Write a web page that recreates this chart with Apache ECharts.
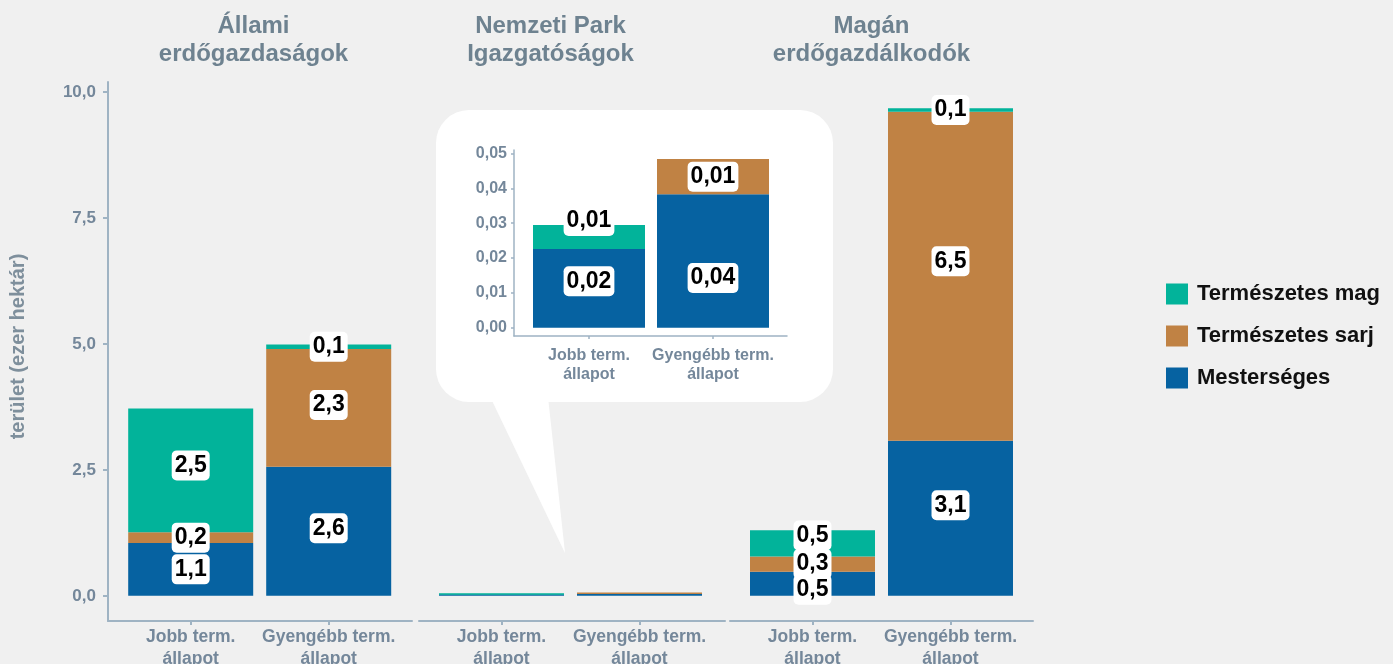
<!DOCTYPE html>
<html>
<head>
<meta charset="utf-8">
<script src="https://cdn.jsdelivr.net/npm/echarts@6/dist/echarts.min.js"></script>
<style>
  html, body { margin: 0; padding: 0; background: #f0f0f0; }
  #chart { width: 1393px; height: 664px; }
</style>
</head>
<body>
<div id="chart"></div>
<script>
// --- data (thousand hectares) ---
const groupTitles = ['Állami\nerdőgazdaságok', 'Nemzeti Park\nIgazgatóságok', 'Magán\nerdőgazdálkodók'];
const conditions = ['Jobb term.\nállapot', 'Gyengébb term.\nállapot'];
const seriesNames = ['Mesterséges', 'Természetes sarj', 'Természetes mag'];
const legendOrder = ['Természetes mag', 'Természetes sarj', 'Mesterséges'];
// per group: [Jobb, Gyengébb]
const mesterseges = [[1.05, 2.56], [0.0226, 0.0383], [0.48, 3.08]];
const termSarj = [[0.21, 2.34], [0, 0.0101], [0.30, 6.53]];
const termMag = [[2.46, 0.09], [0.0069, 0], [0.52, 0.07]];
const yTicks = [0, 2.5, 5, 7.5, 10];
const insetTicks = [0, 0.01, 0.02, 0.03, 0.04, 0.05];

const valuesByName = {
  'Mesterséges': mesterseges,
  'Természetes sarj': termSarj,
  'Természetes mag': termMag
};

// --- styles ---
const FONT = '"Liberation Sans", Arial, sans-serif';
const AXIS = '#9fb3c3';
const LABEL = '#74879a';
const TITLE = '#6e8290';
const colors = {
  'Mesterséges': '#0662a1',
  'Természetes sarj': '#c08244',
  'Természetes mag': '#02b39a'
};
const barLeft = [121.7, 432.5, 743.5];
const lineSpan = [[108, 412], [419, 725], [730, 1033]];
const titleX = [253.5, 550.5, 871.5];

// label nudges so the boxes don't sit on each other (px, per group/bar)
const labelShift = {
  'Mesterséges': [[0, -3], [0, 0], [6, -13]],
  'Természetes sarj': [[0, -3], [0, 0], [0, -15]],
  'Természetes mag': [[-5, 0], [0, 0], [-8, 0]]
};
const insetShift = {
  'Mesterséges': [-7, 17],
  'Természetes sarj': [0, 0],
  'Természetes mag': [-16, 0]
};

const fmt1 = v => (Math.round(v * 10) / 10).toFixed(1).replace('.', ',');
const fmt2 = v => (Math.round(v * 100) / 100).toFixed(2).replace('.', ',');

const labelBox = (fmt) => ({
  show: true,
  position: 'inside',
  formatter: p => fmt(p.value),
  backgroundColor: '#fff',
  borderRadius: 5,
  padding: [4, 3, 2, 3],
  color: '#000',
  fontFamily: FONT,
  fontWeight: 'bold',
  fontSize: 23,
  lineHeight: 24
});

const grids = [];
const xAxes = [];
const yAxes = [];

// bar grids
barLeft.forEach((left, i) => {
  grids.push({ left: left, width: 276, top: 82, bottom: 43, outerBoundsMode: 'none' });
  xAxes.push({
    type: 'category', gridIndex: i, data: conditions,
    axisLine: { show: false, onZero: false },
    axisTick: { show: true, alignWithLabel: true, length: 4, lineStyle: { color: AXIS, width: 2 } },
    axisLabel: { interval: 0, color: LABEL, fontFamily: FONT, fontWeight: 'bold', fontSize: 17.5, lineHeight: 22, margin: 5 }
  });
  yAxes.push({ type: 'value', gridIndex: i, min: -0.5, max: 10.2, show: false });
});

// axis-line grids (the lines run a bit past the bars)
lineSpan.forEach((span, i) => {
  const gi = 3 + i;
  grids.push({ left: span[0], width: span[1] - span[0], top: 82, bottom: 43, outerBoundsMode: 'none' });
  xAxes.push({
    type: 'value', gridIndex: gi, min: 0, max: 1,
    axisLine: { show: true, onZero: false, lineStyle: { color: AXIS, width: 2 } },
    axisTick: { show: false }, axisLabel: { show: false }, splitLine: { show: false }
  });
  if (i === 0) {
    yAxes.push({
      type: 'value', gridIndex: gi, min: -0.5, max: 10.2,
      axisLine: { show: true, lineStyle: { color: AXIS, width: 2 } },
      axisTick: { show: true, length: 5, customValues: yTicks, lineStyle: { color: AXIS, width: 2 } },
      axisLabel: {
        customValues: yTicks, margin: 12,
        formatter: v => v.toFixed(1).replace('.', ','),
        color: LABEL, fontFamily: FONT, fontWeight: 'bold', fontSize: 17
      },
      splitLine: { show: false },
      name: 'terület (ezer hektár)', nameLocation: 'middle', nameRotate: 90, nameGap: 80,
      nameTextStyle: { color: '#7e8f9c', fontFamily: FONT, fontWeight: 'bold', fontSize: 20, padding: [0, 0, 0, 10] }
    });
  } else {
    yAxes.push({ type: 'value', gridIndex: gi, min: -0.5, max: 10.2, show: false });
  }
});

// inset (Nemzeti Park zoom)
grids.push({ left: 527, width: 248, top: 150, height: 186, outerBoundsMode: 'none' });
xAxes.push({
  type: 'category', gridIndex: 6, data: conditions, z: 3,
  axisLine: { show: false, onZero: false },
  axisTick: { show: true, alignWithLabel: true, length: 3, lineStyle: { color: AXIS, width: 1.5 } },
  axisLabel: { interval: 0, color: LABEL, fontFamily: FONT, fontWeight: 'bold', fontSize: 16, lineHeight: 19, margin: 10 }
});
yAxes.push({ type: 'value', gridIndex: 6, min: -0.0024, max: 0.051, show: false });

grids.push({ left: 514, width: 273, top: 150, height: 186, outerBoundsMode: 'none' });
xAxes.push({
  type: 'value', gridIndex: 7, min: 0, max: 1, z: 3,
  axisLine: { show: true, onZero: false, lineStyle: { color: AXIS, width: 1.5 } },
  axisTick: { show: false }, axisLabel: { show: false }, splitLine: { show: false }
});
yAxes.push({
  type: 'value', gridIndex: 7, min: -0.0024, max: 0.051, z: 3,
  axisLine: { show: true, lineStyle: { color: AXIS, width: 1.5 } },
  axisTick: { show: true, length: 3, customValues: insetTicks, lineStyle: { color: AXIS, width: 1.5 } },
  axisLabel: {
    customValues: insetTicks, margin: 7,
    formatter: v => v.toFixed(2).replace('.', ','),
    color: LABEL, fontFamily: FONT, fontWeight: 'bold', fontSize: 16
  },
  splitLine: { show: false }
});

const series = [];
groupTitles.forEach((g, gi) => {
  seriesNames.forEach(name => {
    const vals = valuesByName[name][gi];
    series.push({
      name: name, type: 'bar', stack: 'g' + gi,
      xAxisIndex: gi, yAxisIndex: gi,
      barWidth: 125,
      barMinHeight: gi === 1 ? 1.5 : 0,
      itemStyle: { color: colors[name] },
      label: gi === 1 ? { show: false } : labelBox(fmt1),
      emphasis: { disabled: true },
      data: vals.map((v, bi) => v === 0 ? '-' : {
        value: v,
        label: { offset: [0, labelShift[name][gi][bi]] }
      })
    });
  });
});
seriesNames.forEach(name => {
  const vals = valuesByName[name][1];
  series.push({
    name: name, type: 'bar', stack: 'inset',
    xAxisIndex: 6, yAxisIndex: 6,
    barWidth: 112,
    itemStyle: { color: colors[name] },
    label: labelBox(fmt2),
    emphasis: { disabled: true },
    data: vals.map((v, bi) => v === 0 ? '-' : {
      value: v,
      label: { offset: [0, insetShift[name][bi]] }
    })
  });
});

const graphics = [
  { type: 'rect', z: -1, shape: { x: 436, y: 110, width: 397, height: 292, r: 33 }, style: { fill: '#fff' } },
  { type: 'polygon', z: -1, shape: { points: [[491.7, 400], [548.3, 400], [565, 553]] }, style: { fill: '#fff' } }
];
groupTitles.forEach((t, i) => {
  graphics.push({
    type: 'text', x: titleX[i], y: 12,
    style: {
      text: t, align: 'center', verticalAlign: 'top',
      fontFamily: FONT, fontWeight: 'bold', fontSize: 24, lineHeight: 28, fill: TITLE
    }
  });
});

const chart = echarts.init(document.getElementById('chart'));
chart.setOption({
  backgroundColor: '#f0f0f0',
  animation: false,
  grid: grids,
  xAxis: xAxes,
  yAxis: yAxes,
  legend: {
    orient: 'vertical', left: 1161, top: 278,
    itemWidth: 22, itemHeight: 21, itemGap: 20,
    icon: 'rect', selectedMode: false,
    data: legendOrder,
    textStyle: { fontSize: 22, fontWeight: 'bold', color: '#111', fontFamily: FONT, lineHeight: 21, padding: [0, 0, 0, 4] }
  },
  graphic: graphics,
  series: series
});
</script>
</body>
</html>
